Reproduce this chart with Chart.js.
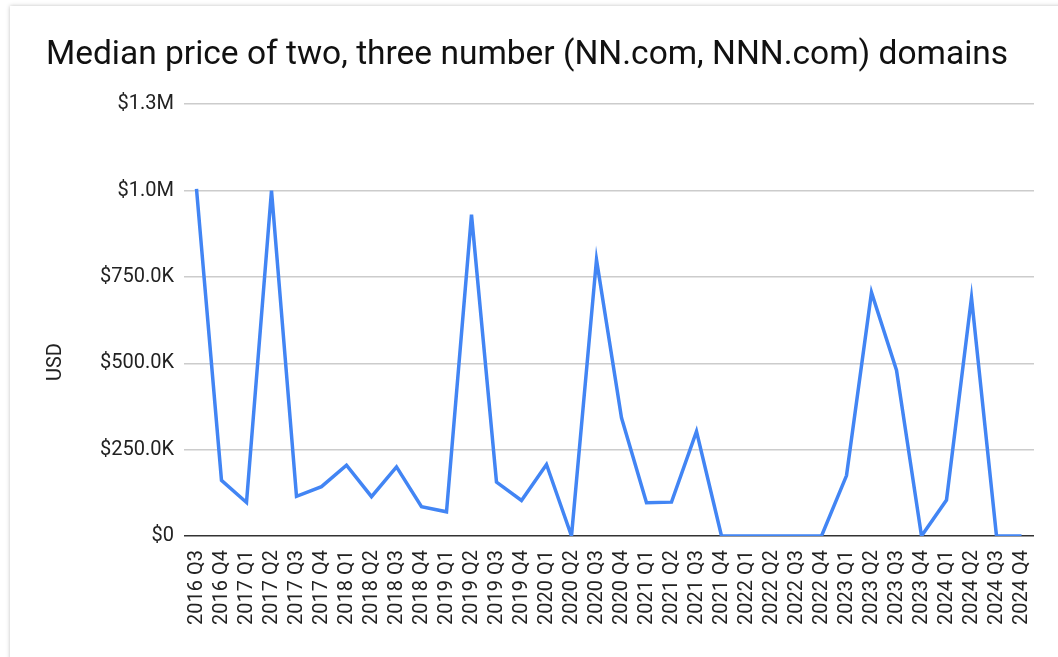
<!DOCTYPE html>
<html>
<head>
<meta charset="utf-8">
<script src="https://cdn.jsdelivr.net/npm/chart.js@4.4.1/dist/chart.umd.min.js"></script>
<style>
  html, body { margin: 0; padding: 0; background: #fff; overflow: hidden; }
  .card {
    position: absolute; left: 10px; top: 6px; width: 1070px; height: 670px;
    background: #fff; box-shadow: 0 0 4px rgba(0,0,0,0.25);
  }
  .wrap { position: absolute; left: 0; top: 0; width: 1058px; height: 657px; }
</style>
</head>
<body>
<div class="card"></div>
<div class="wrap"><canvas id="priceChart"></canvas></div>
<script>
const quarters = [
  '2016 Q3', '2016 Q4',
  '2017 Q1', '2017 Q2', '2017 Q3', '2017 Q4',
  '2018 Q1', '2018 Q2', '2018 Q3', '2018 Q4',
  '2019 Q1', '2019 Q2', '2019 Q3', '2019 Q4',
  '2020 Q1', '2020 Q2', '2020 Q3', '2020 Q4',
  '2021 Q1', '2021 Q2', '2021 Q3', '2021 Q4',
  '2022 Q1', '2022 Q2', '2022 Q3', '2022 Q4',
  '2023 Q1', '2023 Q2', '2023 Q3', '2023 Q4',
  '2024 Q1', '2024 Q2', '2024 Q3', '2024 Q4'
];

const medianPrice = [
  1005000, 161000,
  97000, 1000000, 115000, 143000,
  205000, 114000, 200000, 85000,
  70000, 930000, 156000, 103000,
  207000, 0, 800000, 342000,
  96000, 98000, 303000, 0,
  0, 0, 0, 0,
  175000, 705000, 480000, 0,
  104000, 690000, 0, 0
];

const yTicks = [0, 250000, 500000, 750000, 1000000, 1250000];

function formatUsd(v) {
  if (v === 0) return '$0';
  if (v >= 1000000) return '$' + (v / 1000000).toFixed(1) + 'M';
  return '$' + (v / 1000).toFixed(1) + 'K';
}

// y axis title, centred on the whole plot incl. the category labels
const usdLabel = {
  id: 'usdLabel',
  afterDraw(chart) {
    const { ctx } = chart;
    ctx.save();
    ctx.translate(56, 362);
    ctx.rotate(-Math.PI / 2);
    ctx.font = '20px Roboto, "Noto Sans", sans-serif';
    ctx.fillStyle = '#222';
    ctx.textAlign = 'center';
    ctx.textBaseline = 'middle';
    ctx.fillText('USD', 0, 0);
    ctx.restore();
  }
};

document.addEventListener('DOMContentLoaded', () => {
  Chart.defaults.font.family = 'Roboto, "Noto Sans", sans-serif';
  Chart.defaults.color = '#222';

  new Chart(document.getElementById('priceChart'), {
    type: 'line',
    data: {
      labels: quarters,
      datasets: [{
        label: 'Median price',
        data: medianPrice,
        borderColor: '#4285f4',
        backgroundColor: '#4285f4',
        borderWidth: 3.5,
        pointRadius: 0,
        tension: 0
      }]
    },
    options: {
      responsive: true,
      maintainAspectRatio: false,
      animation: false,
      layout: { padding: { left: 20, right: 24, top: 0, bottom: 0 } },
      plugins: {
        legend: { display: false },
        tooltip: { enabled: false },
        title: {
          display: true,
          text: 'Median price of two, three number (NN.com, NNN.com) domains',
          color: '#111',
          font: { size: 33.5, weight: 'normal' },
          padding: { top: 36, bottom: 28 }
        }
      },
      scales: {
        x: {
          offset: true,
          grid: { display: false },
          border: { display: false },
          ticks: {
            autoSkip: false,
            minRotation: 90,
            maxRotation: 90,
            padding: 6,
            color: '#222',
            font: { size: 20 }
          },
          afterFit: s => { s.height = 121; }
        },
        y: {
          min: 0,
          max: 1250000,
          afterBuildTicks: s => { s.ticks = yTicks.map(v => ({ value: v })); },
          border: { display: false },
          grid: {
            drawTicks: false,
            lineWidth: 1.5,
            color: ctx => ctx.tick && ctx.tick.value === 0 ? '#333' : '#ccc'
          },
          ticks: {
            padding: 10,
            color: '#222',
            font: { size: 20 },
            callback: v => formatUsd(v)
          },
          afterFit: s => { s.width = 164; }
        }
      }
    },
    plugins: [usdLabel]
  });
});
</script>
</body>
</html>
